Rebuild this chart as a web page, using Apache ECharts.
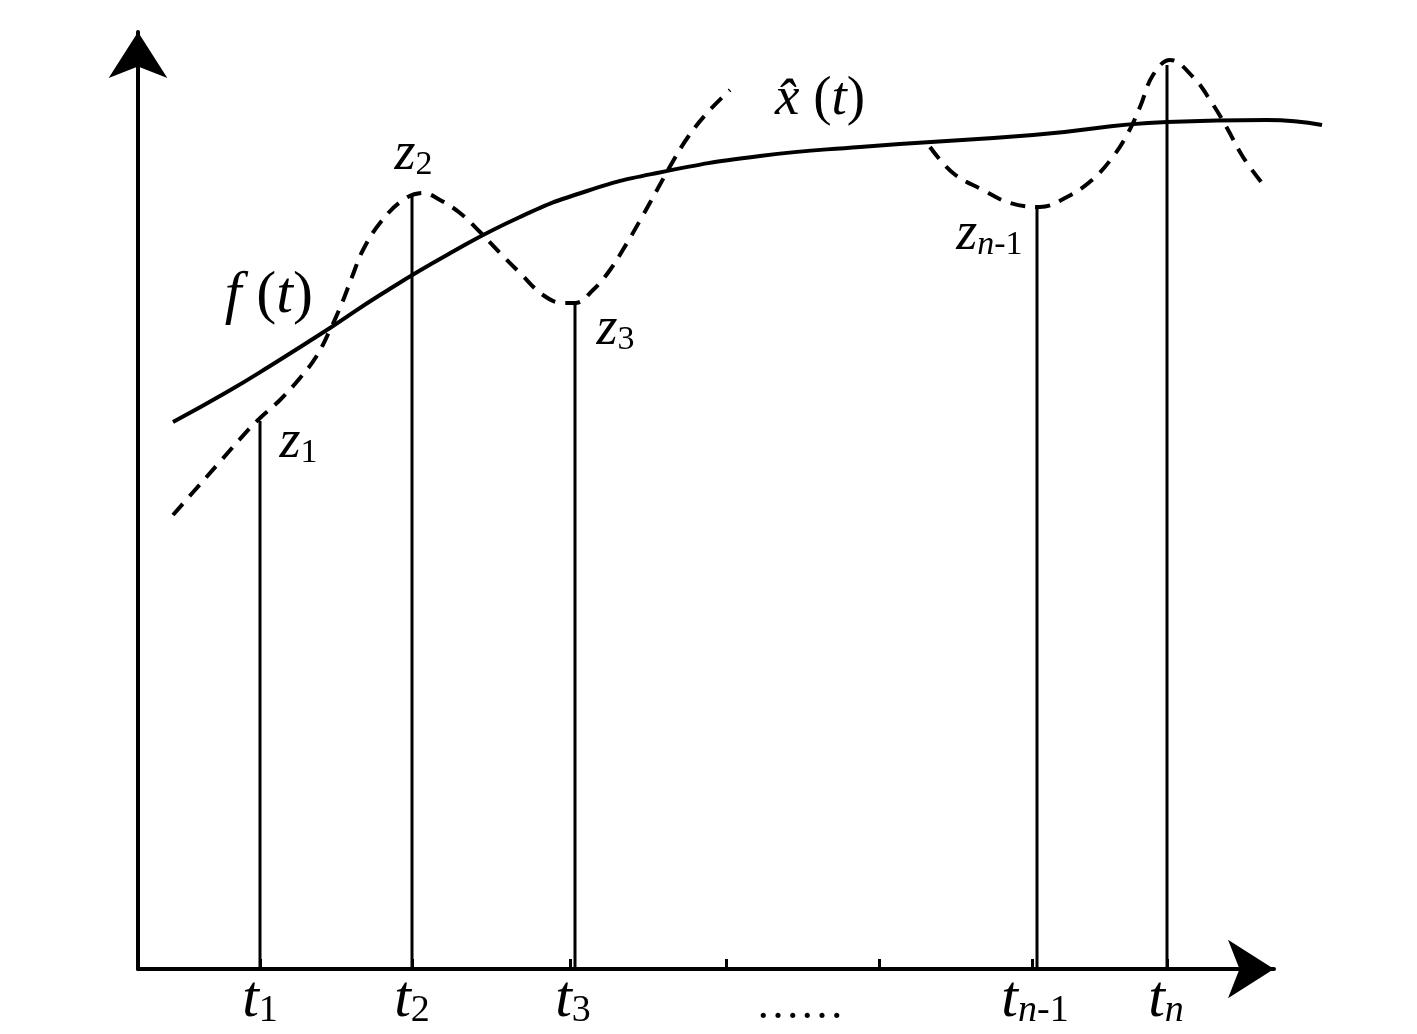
<!DOCTYPE html>
<html>
<head>
<meta charset="utf-8">
<title>f(t) 与 x̂(t)</title>
<script src="https://cdn.jsdelivr.net/npm/echarts@6/dist/echarts.min.js"></script>
<style>
html, body { margin: 0; padding: 0; background: #fff; }
#main { width: 1417px; height: 1034px; }
</style>
</head>
<body>
<div id="main"></div>
<script>
// f(t) 实线
const fX = [35, 89, 132, 192, 242, 309, 382, 449, 519, 622, 722, 895, 1029, 1129, 1184]
const fY = [547, 577, 603, 641, 674, 714, 752, 778, 796, 813, 822, 834, 847, 849, 844]
// x^(t) 虚线，第一段
const xhatX1 = [35, 57, 80, 102, 120, 142, 162, 178, 192, 204, 214, 225, 242, 265, 285, 302, 322, 342, 362, 382, 405, 425, 437, 455, 472, 489, 504, 519, 534, 550, 569, 592]
const xhatY1 = [454, 479, 505, 530, 549, 569, 591, 612, 639, 666, 692, 719, 746, 769, 776, 769, 756, 737, 716, 696, 674, 666, 666, 679, 699, 726, 752, 779, 806, 832, 856, 879]
// x^(t) 虚线，第二段
const xhatX2 = [792, 815, 845, 872, 902, 929, 954, 974, 990, 1002, 1015, 1032, 1055, 1074, 1089, 1105, 1124]
const xhatY2 = [822, 796, 779, 766, 762, 772, 789, 811, 836, 862, 894, 909, 892, 866, 841, 812, 786]
// 采样 z_i
const zX = [122, 274, 437, 899, 1029]
const zY = [548, 774, 666, 762, 904]
const zSub = ['1', '2', '3', 'n-1', '']
// 横轴刻度和标签
const tickX = [122, 274, 432, 588, 741, 894, 1029]
const labelX = [122, 274, 435, 662, 897, 1028]
const labelSub = ['1', '2', '3', '……', 'n-1', 'n']

const serif = 'Liberation Serif'

// 下标: n 用斜体, 数字用正体
function sub(s, pre) {
  if (!s) return ''
  if (s[0] === 'n') {
    return '{' + pre + 'n|n}' + (s.length > 1 ? '{' + pre + 's|' + s.slice(1) + '}' : '')
  }
  return '{' + pre + 's|' + s + '}'
}

// 下标用 padding 往下压
const zRich = {
  z: { fontFamily: serif, fontStyle: 'italic', fontSize: 54, lineHeight: 54, color: '#000' },
  zs: { fontFamily: serif, fontSize: 34, lineHeight: 4, padding: [20, 0, 0, 0], color: '#000' },
  zn: { fontFamily: serif, fontStyle: 'italic', fontSize: 34, lineHeight: 4, padding: [20, 0, 0, 0], color: '#000' }
}
// 每个 z 标签相对竖线顶端的位置
const zLabelPos = [
  { position: [21, 22], align: 'left' },
  { position: [3, -40], align: 'center' },
  { position: [23, 27], align: 'left' },
  { position: [-13, 28], align: 'right' },
  null
]

const chart = echarts.init(document.getElementById('main'))

const hiddenAxis = { show: false, splitLine: { show: false } }

chart.setOption({
  animation: false,
  backgroundColor: '#fff',
  // 第一个 grid 画坐标轴，第二个同比例但更宽，曲线可以画到箭头右边
  grid: [
    { left: 138, top: 32, right: 143, bottom: 65 },
    { left: 138, top: 32, right: 32, bottom: 65 }
  ],
  xAxis: [
    {
      type: 'value',
      gridIndex: 0,
      min: 0,
      max: 1136,
      splitLine: { show: false },
      axisLine: {
        show: true,
        symbol: ['none', 'arrow'],
        symbolSize: [44, 46],
        lineStyle: { color: '#000', width: 4 }
      },
      axisTick: {
        show: true,
        customValues: tickX,
        inside: true,
        length: 10,
        lineStyle: { color: '#000', width: 3 }
      },
      axisLabel: {
        show: true,
        customValues: labelX,
        margin: 6,
        formatter: function (v) {
          const i = labelX.indexOf(v)
          if (i < 0) return ''
          if (labelSub[i] === '……') return '{d|……}'
          return '{t|t}' + sub(labelSub[i], 't')
        },
        rich: {
          t: { fontFamily: serif, fontStyle: 'italic', fontSize: 60, lineHeight: 50, color: '#000' },
          ts: { fontFamily: serif, fontSize: 38, lineHeight: 4, padding: [22, 0, 0, 0], color: '#000' },
          tn: { fontFamily: serif, fontStyle: 'italic', fontSize: 38, lineHeight: 4, padding: [22, 0, 0, 0], color: '#000' },
          d: { fontFamily: serif, fontSize: 44, lineHeight: 62, color: '#000' }
        }
      }
    },
    Object.assign({ type: 'value', gridIndex: 1, min: 0, max: 1247 }, hiddenAxis)
  ],
  yAxis: [
    {
      type: 'value',
      gridIndex: 0,
      min: 0,
      max: 937,
      splitLine: { show: false },
      axisTick: { show: false },
      axisLabel: { show: false },
      axisLine: {
        show: true,
        symbol: ['none', 'arrow'],
        symbolSize: [44, 46],
        lineStyle: { color: '#000', width: 4 }
      }
    },
    Object.assign({ type: 'value', gridIndex: 1, min: 0, max: 937 }, hiddenAxis)
  ],
  series: [
    {
      name: 'f(t)',
      type: 'line',
      xAxisIndex: 1,
      yAxisIndex: 1,
      smooth: 0.5,
      clip: false,
      symbol: 'circle',
      symbolSize: 0,
      showSymbol: true,
      lineStyle: { color: '#000', width: 4 },
      itemStyle: { color: '#000' },
      data: fX.map(function (x, i) {
        const d = { value: [x, fY[i]] }
        if (i === 3) {
          d.label = {
            show: true,
            position: [-17, -32],
            align: 'right',
            verticalAlign: 'middle',
            formatter: '{i|f }{r|(}{i|t}{r|)}',
            rich: {
              i: { fontFamily: serif, fontStyle: 'italic', fontSize: 60, color: '#000' },
              r: { fontFamily: serif, fontSize: 60, color: '#000' }
            }
          }
        }
        return d
      })
    },
    {
      name: 'x^(t) 1',
      type: 'line',
      xAxisIndex: 1,
      yAxisIndex: 1,
      smooth: 0.4,
      clip: false,
      symbol: 'circle',
      symbolSize: 0,
      showSymbol: true,
      lineStyle: { color: '#000', width: 4, type: [15, 10] },
      itemStyle: { color: '#000' },
      data: xhatX1.map(function (x, i) {
        const d = { value: [x, xhatY1[i]] }
        if (i === xhatX1.length - 1) {
          d.label = {
            show: true,
            position: [45, 10],
            align: 'left',
            verticalAlign: 'middle',
            formatter: '{i|x\u0302 }{r|(}{i|t}{r|)}',
            rich: {
              i: { fontFamily: serif, fontStyle: 'italic', fontSize: 55, color: '#000' },
              r: { fontFamily: serif, fontSize: 55, color: '#000' }
            }
          }
        }
        return d
      })
    },
    {
      name: 'x^(t) 2',
      type: 'line',
      xAxisIndex: 1,
      yAxisIndex: 1,
      smooth: 0.4,
      clip: false,
      symbol: 'none',
      lineStyle: { color: '#000', width: 4, type: [15, 10] },
      data: xhatX2.map(function (x, i) { return [x, xhatY2[i]] })
    },
    {
      name: 'z',
      type: 'bar',
      xAxisIndex: 1,
      yAxisIndex: 1,
      barWidth: 3,
      itemStyle: { color: '#000' },
      data: zX.map(function (x, i) {
        const d = { value: [x, zY[i]] }
        if (zLabelPos[i]) {
          d.label = {
            show: true,
            position: zLabelPos[i].position,
            align: zLabelPos[i].align,
            verticalAlign: 'middle',
            formatter: '{z|z}' + sub(zSub[i], 'z'),
            rich: zRich
          }
        }
        return d
      })
    }
  ]
})
</script>
</body>
</html>
